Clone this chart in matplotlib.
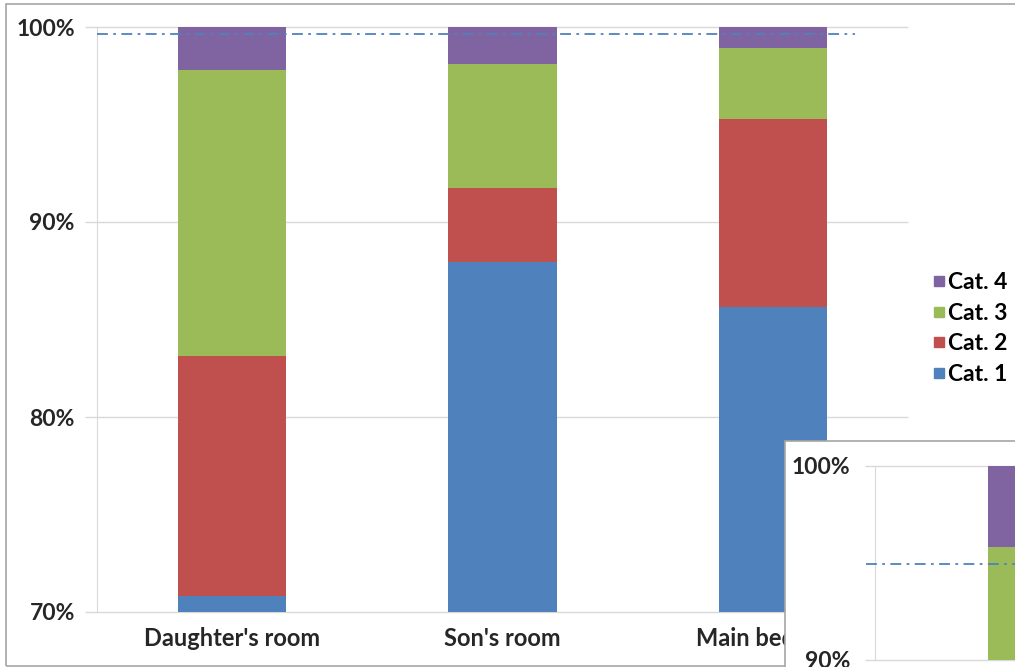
import numpy as np
import matplotlib.pyplot as plt
from matplotlib.patches import Rectangle
from matplotlib.lines import Line2D
from matplotlib.ticker import FuncFormatter

# data (percent)
rooms = ["Daughter's room", "Son's room", "Main bedroom"]
cat1 = [70.8, 87.95, 85.65]
cat2 = [12.35, 3.8, 9.65]
cat3 = [14.65, 6.35, 3.6]
cat4 = [2.2, 1.9, 1.1]
ref_level = 99.65

# inset (only part of one bar visible)
inset_cat3_top = 95.8
inset_cat4 = 4.2
inset_ref = 94.95

colors = ['#4F81BD', '#C0504D', '#9BBB59', '#8064A2']
names = ['Cat. 1', 'Cat. 2', 'Cat. 3', 'Cat. 4']
W, H = 1015, 667
grid_c = '#D9D9D9'
dashdot = (0, (6, 3, 1.5, 3))

plt.rcParams['font.family'] = ['Lato', 'DejaVu Sans']
plt.rcParams['font.weight'] = 'bold'

fig = plt.figure(figsize=(W / 100, H / 100), dpi=100)
fig.patch.set_facecolor('white')

# outer frame
fig.patches.append(Rectangle((6 / W, 1 / H), 1.2, (662 / H), transform=fig.transFigure,
                             fill=False, edgecolor='#A6A6A6', lw=1.2, zorder=0))

ax = fig.add_axes([97 / W, 55 / H, 811 / W, 585 / H])
x = np.arange(len(rooms))
bottom = np.zeros(len(rooms))
for vals, c in zip([cat1, cat2, cat3, cat4], colors):
    ax.bar(x, vals, 0.4, bottom=bottom, color=c, zorder=2)
    bottom = bottom + np.array(vals)
ax.set_ylim(70, 100)
ax.set_xlim(-0.5, 2.5)
yt = [70, 80, 90, 100]
ax.set_yticks(yt)
ax.yaxis.set_major_formatter(FuncFormatter(lambda v, p: '%d%%' % v))
ax.set_xticks(x)
ax.set_xticklabels(rooms, fontsize=17)
ax.hlines(yt, -0.545, 2.5, color=grid_c, lw=1, zorder=0, clip_on=False)
for s in ['top', 'right', 'bottom']:
    ax.spines[s].set_visible(False)
ax.spines['left'].set_color(grid_c)
ax.tick_params(length=0, colors='#262626')
ax.tick_params(axis='y', pad=16, labelsize=16.5)
ax.tick_params(axis='x', pad=11)
ax.plot([-0.5, 2.305], [ref_level, ref_level], color='#4F81BD', lw=1.3,
        linestyle=dashdot, zorder=3, clip_on=False)

handles = [Line2D([], [], marker='s', ls='', color=c, markersize=7.5) for c in colors[::-1]]
fig.legend(handles, names[::-1], loc='upper left', bbox_to_anchor=(918 / W, 1 - 263 / H),
           frameon=False, prop={'size': 16.5, 'weight': 'bold'}, handletextpad=-0.1,
           labelspacing=0.42, handlelength=1.0, borderaxespad=0)

# inset panel
fig.patches.append(Rectangle((787 / W, -0.05), 0.5, (224 / H) + 0.05, transform=fig.transFigure,
                             facecolor='#BFBFBF', edgecolor='none', zorder=4))
fig.patches.append(Rectangle((785 / W, -0.05), 0.5, (226 / H) + 0.05, transform=fig.transFigure,
                             facecolor='white', edgecolor='#A6A6A6', lw=1.2, zorder=5))

ins = fig.add_axes([875 / W, 7 / H, 300 / W, 194 / H], zorder=6)
ins.patch.set_alpha(0)
ins.bar([0], [inset_cat3_top], 0.5, color=colors[2], zorder=2, align='edge')
ins.bar([0], [inset_cat4], 0.5, bottom=[inset_cat3_top], color=colors[3], zorder=2, align='edge')
ins.set_xlim(-0.6, 1.0)
ins.set_ylim(90, 100)
ins.set_yticks([90, 100])
ins.yaxis.set_major_formatter(FuncFormatter(lambda v, p: '%d%%' % v))
ins.set_xticks([])
ins.hlines([90, 100], -0.655, 1.0, color=grid_c, lw=1, zorder=0, clip_on=False)
for s in ['top', 'right', 'bottom']:
    ins.spines[s].set_visible(False)
ins.spines['left'].set_color(grid_c)
ins.tick_params(length=0, labelsize=16.5, colors='#262626', pad=18)
ins.plot([-0.65, 1.0], [inset_ref, inset_ref], color='#4F81BD', lw=1.3,
         linestyle=dashdot, zorder=3, clip_on=False)

fig.savefig('out.png', dpi=100)
